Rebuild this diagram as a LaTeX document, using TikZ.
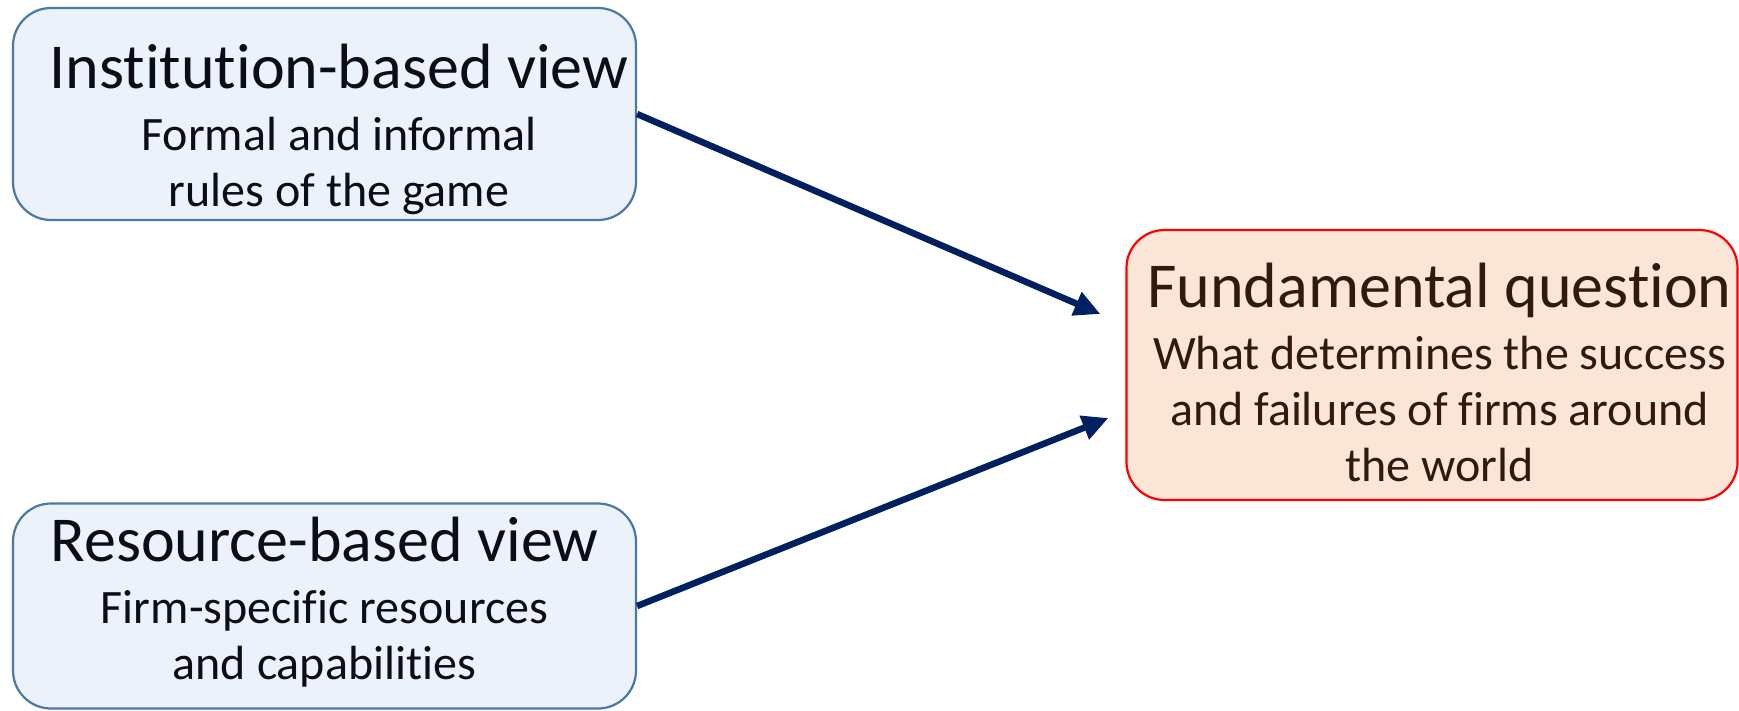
\documentclass[tikz,border=0pt]{standalone}
\usepackage{fontspec}
\setmainfont[Ligatures={NoCommon}]{Carlito}
\usetikzlibrary{arrows.meta,calc}
\definecolor{bluefill}{HTML}{EBF2FA}
\definecolor{blueline}{HTML}{4A79A8}
\definecolor{peachfill}{HTML}{FBE5D6}
\definecolor{redline}{HTML}{FF0000}
\definecolor{darktext}{HTML}{0D0D1A}
\definecolor{browntext}{HTML}{2E1A0E}
\definecolor{navy}{HTML}{002060}
\tikzset{
  box/.style={rounded corners=38pt, line width=2.2pt, inner sep=0pt},
  bluebox/.style={box, draw=blueline, fill=bluefill},
  peachbox/.style={box, draw=redline, fill=peachfill},
  boxtext/.style={align=center, inner sep=0pt, anchor=base,
    font=\fontsize{48}{56}\selectfont},
  conn/.style={line width=6.5pt, draw=navy, -{Triangle[length=26pt,width=24pt]}},
}
\newcommand{\ttl}[1]{{\fontsize{64}{62}\selectfont #1}}
\begin{document}
\begin{tikzpicture}[x=1pt,y=-1pt]
\useasboundingbox (0,0) rectangle (1739,710);
\node[bluebox, minimum width=623pt, minimum height=212pt] (inst) at (324.5,114) {};
\node[bluebox, minimum width=623pt, minimum height=205pt] (res) at (324.5,606) {};
\node[peachbox, minimum width=611pt, minimum height=270pt] (fq) at (1432,365) {};
\node[boxtext, text=darktext] (inst-t) at (339,206)
  {\ttl{Institution-based view}\\[6pt]Formal and informal\\rules of the game};
\node[boxtext, text=darktext] (res-t) at (324.5,679)
  {\ttl{Resource-based view}\\[6pt]Firm-specific resources\\and capabilities};
\node[boxtext, text=browntext] (fq-t) at (1439.5,481)
  {\ttl{Fundamental question}\\[6pt]What determines the success\\and failures of firms around\\the world};
\coordinate (t1) at ($(fq.west)+(-25,-51)$);
\coordinate (t2) at ($(fq.west)+(-17,53)$);
\draw[conn] (inst.east) -- (t1);
\draw[conn] (res.east) -- (t2);
\end{tikzpicture}
\end{document}
